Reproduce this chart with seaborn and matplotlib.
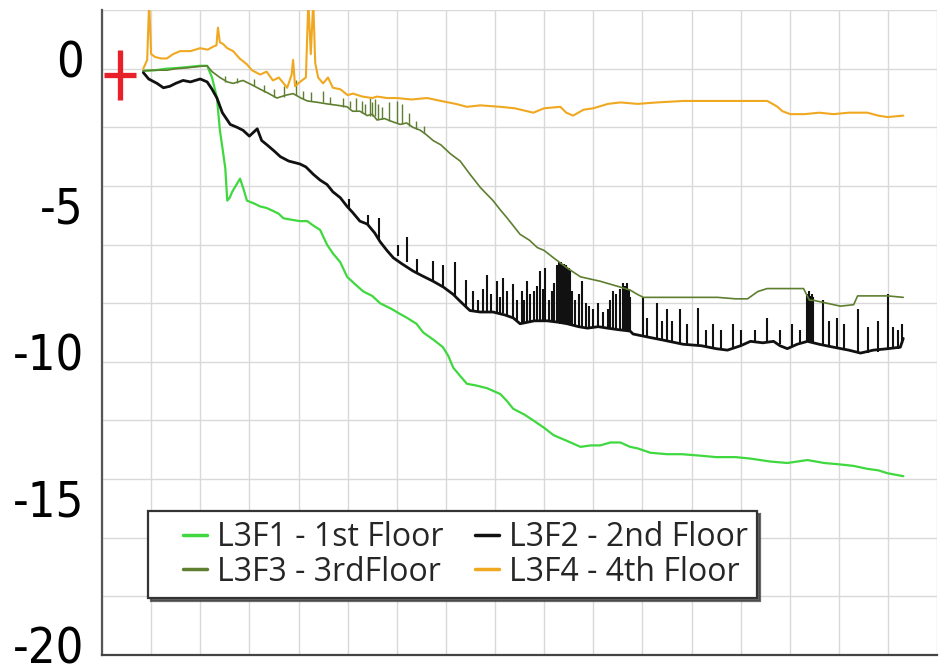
import numpy as np
import pandas as pd
import matplotlib
matplotlib.use("Agg")
import matplotlib.pyplot as plt
import matplotlib.transforms as mtransforms
import seaborn as sns
from matplotlib.lines import Line2D
from matplotlib.path import Path
from matplotlib.legend_handler import HandlerLine2D
from matplotlib.ticker import MultipleLocator, NullFormatter

# ---- settlement records (time in grid units, displacement) ----
series_names = ["L3F1 - 1st Floor", "L3F2 - 2nd Floor", "L3F3 - 3rdFloor", "L3F4 - 4th Floor"]
series_colors = ["#3fd83f", "#111111", "#5f7f30", "#f0a820"]

f1_t = [0.84, 1.1, 1.3, 1.5, 1.7, 2.0, 2.14, 2.24, 2.34, 2.40, 2.46, 2.51, 2.55, 2.60, 2.65,
        2.81, 2.88, 2.95, 3.1, 3.22, 3.35, 3.48, 3.6, 3.69, 3.85, 4.03, 4.18, 4.3, 4.44, 4.58,
        4.70, 4.85, 4.99, 5.15, 5.32, 5.5, 5.66, 5.9, 6.05, 6.21, 6.4, 6.54, 6.75, 6.94, 7.05,
        7.15, 7.3, 7.43, 7.6, 7.84, 8.11, 8.25, 8.37, 8.6, 8.78, 9.0, 9.19, 9.47, 9.74, 9.95,
        10.14, 10.35, 10.55, 10.75, 10.90, 11.16, 11.5, 11.8, 12.18, 12.5, 12.9, 13.20, 13.6,
        13.95, 14.36, 14.7, 15.03, 15.3, 15.58, 15.8, 15.99, 16.15, 16.31]
f1_d = [-0.07, -0.05, 0.0, 0.02, 0.05, 0.1, 0.1, -0.3, -1.0, -2.1, -2.8, -3.4, -4.5, -4.4, -4.2,
        -3.75, -4.1, -4.5, -4.6, -4.7, -4.75, -4.85, -4.95, -5.1, -5.15, -5.2, -5.2, -5.35, -5.5,
        -6.0, -6.3, -6.6, -7.1, -7.35, -7.6, -7.75, -8.0, -8.2, -8.35, -8.5, -8.7, -9.0, -9.25,
        -9.5, -9.8, -10.2, -10.5, -10.75, -10.8, -10.9, -11.1, -11.35, -11.6, -11.8, -12.0,
        -12.25, -12.5, -12.7, -12.9, -12.85, -12.85, -12.75, -12.75, -12.9, -12.95, -13.1,
        -13.15, -13.15, -13.2, -13.25, -13.25, -13.3, -13.4, -13.45, -13.35, -13.45, -13.5,
        -13.55, -13.65, -13.7, -13.8, -13.85, -13.9]

f2_t = [0.84, 0.95, 1.12, 1.25, 1.38, 1.5, 1.65, 1.8, 2.0, 2.14, 2.24, 2.34, 2.45, 2.61, 2.75,
        2.87, 3.0, 3.16, 3.25, 3.36, 3.5, 3.63, 3.8, 4.03, 4.15, 4.30, 4.44, 4.58, 4.70, 4.85,
        4.99, 5.1, 5.25, 5.40, 5.55, 5.66, 5.8, 5.93, 6.1, 6.33, 6.5, 6.74, 6.95, 7.15, 7.3,
        7.49, 7.7, 7.96, 8.2, 8.37, 8.51, 8.8, 9.06, 9.3, 9.47, 9.7, 9.88, 10.1, 10.29, 10.5,
        10.75, 10.81, 11.1, 11.4, 11.83, 12.2, 12.5, 12.73, 13.0, 13.20, 13.45, 13.67, 13.8,
        13.95, 14.15, 14.36, 14.6, 14.89, 15.2, 15.44, 15.7, 16.0, 16.25, 16.31]
f2_d = [-0.13, -0.35, -0.5, -0.65, -0.6, -0.5, -0.4, -0.45, -0.35, -0.45, -0.7, -1.0, -1.5,
        -1.9, -2.0, -2.1, -2.3, -2.05, -2.45, -2.6, -2.8, -3.0, -3.15, -3.25, -3.35, -3.6, -3.8,
        -3.95, -4.2, -4.4, -4.7, -4.9, -5.2, -5.3, -5.6, -5.9, -6.2, -6.45, -6.65, -6.9, -7.05,
        -7.25, -7.45, -7.7, -7.95, -8.25, -8.3, -8.3, -8.4, -8.5, -8.7, -8.6, -8.6, -8.65, -8.7,
        -8.8, -8.85, -8.8, -8.85, -8.9, -8.95, -9.05, -9.15, -9.25, -9.4, -9.45, -9.55, -9.6,
        -9.45, -9.3, -9.35, -9.3, -9.45, -9.55, -9.4, -9.3, -9.4, -9.5, -9.6, -9.7, -9.6, -9.55,
        -9.5, -9.2]

# short upward bursts of the 2nd-floor reading
f2_spike_t = [5.02, 5.42, 5.64, 6.03, 6.21, 6.41, 6.74, 6.94, 7.19, 7.40, 7.55, 7.65, 7.75,
              7.84, 7.92, 8.04, 8.10, 8.17, 8.25, 8.37, 8.45, 8.55, 8.60, 8.66, 8.72, 8.80,
              8.85, 8.92, 8.97, 9.02, 9.10, 9.15, 9.20, 9.27, 9.30, 9.32, 9.35, 9.37, 9.40,
              9.42, 9.45, 9.47, 9.50, 9.52, 9.57, 9.62, 9.70, 9.78, 9.85, 9.92, 10.00, 10.10,
              10.20, 10.29, 10.35, 10.41, 10.47, 10.55, 10.61, 10.65, 10.69, 10.72, 10.75,
              11.02, 11.10, 11.30, 11.40, 11.51, 11.60, 11.77, 11.90, 12.14, 12.30, 12.44,
              12.60, 12.85, 13.00, 13.30, 13.54, 13.80, 14.05, 14.20, 14.36, 14.39, 14.42,
              14.45, 14.48, 14.68, 14.80, 14.97, 15.10, 15.38, 15.60, 15.80, 15.99, 16.10,
              16.20, 16.29]
f2_spike_lo = [-4.75, -5.35, -5.85, -6.4, -6.6, -6.95, -7.25, -7.45, -7.75, -8.1, -8.25, -8.3,
               -8.3, -8.3, -8.3, -8.3, -8.35, -8.35, -8.4, -8.5, -8.6, -8.7, -8.7, -8.65, -8.6,
               -8.6, -8.6, -8.6, -8.6, -8.6, -8.6, -8.65, -8.65, -8.65, -8.65, -8.7, -8.7,
               -8.7, -8.7, -8.7, -8.7, -8.7, -8.75, -8.75, -8.75, -8.8, -8.8, -8.8, -8.85,
               -8.85, -8.85, -8.8, -8.85, -8.85, -8.85, -8.9, -8.9, -8.9, -8.9, -8.9, -8.95,
               -8.95, -8.95, -9.1, -9.15, -9.2, -9.25, -9.25, -9.3, -9.35, -9.4, -9.45, -9.5,
               -9.55, -9.6, -9.5, -9.45, -9.35, -9.3, -9.4, -9.45, -9.35, -9.3, -9.3, -9.3,
               -9.35, -9.35, -9.4, -9.45, -9.5, -9.55, -9.65, -9.7, -9.65, -9.6, -9.55, -9.55,
               -9.4]
f2_spike_hi = [-4.45, -5.0, -5.1, -6.0, -5.75, -6.5, -6.55, -6.7, -6.6, -7.2, -7.6, -7.9,
               -7.5, -7.05, -7.7, -7.25, -7.8, -7.15, -7.6, -7.35, -7.9, -7.6, -7.9, -7.25,
               -7.7, -7.6, -7.4, -6.9, -7.5, -6.8, -7.9, -7.6, -7.3, -6.7, -6.6, -6.65, -6.6,
               -6.7, -6.65, -6.7, -6.7, -6.75, -6.8, -6.9, -7.6, -7.9, -7.7, -7.25, -8.0, -8.1,
               -8.2, -8.0, -8.3, -8.2, -7.9, -7.6, -7.7, -7.5, -7.3, -7.4, -7.3, -7.5, -7.8,
               -7.8, -8.5, -8.0, -8.6, -8.2, -8.6, -8.2, -8.7, -8.15, -8.9, -8.7, -8.9, -8.7,
               -8.9, -8.9, -8.5, -8.9, -8.7, -8.9, -7.7, -7.6, -7.75, -7.7, -7.8, -7.9, -8.6,
               -8.5, -8.7, -8.2, -8.8, -8.6, -7.7, -8.8, -8.9, -8.7]

f3_t = [0.84, 1.1, 1.32, 1.5, 1.73, 2.0, 2.14, 2.24, 2.40, 2.55, 2.67, 2.87, 3.05, 3.22, 3.4,
        3.56, 3.75, 3.89, 4.05, 4.18, 4.4, 4.58, 4.8, 4.99, 5.1, 5.25, 5.40, 5.5, 5.60, 5.75,
        5.9, 6.07, 6.2, 6.33, 6.48, 6.6, 6.74, 6.9, 7.09, 7.29, 7.49, 7.70, 7.96, 8.1, 8.25,
        8.51, 8.7, 8.86, 9.0, 9.19, 9.47, 9.74, 10.14, 10.55, 10.75, 10.90, 11.02, 11.4, 11.77,
        12.1, 12.53, 12.9, 13.14, 13.35, 13.54, 13.9, 14.28, 14.4, 14.48, 15.03, 15.3, 15.38,
        15.7, 15.99, 16.31]
f3_d = [-0.07, -0.05, -0.05, 0.0, 0.03, 0.08, 0.1, -0.1, -0.3, -0.45, -0.5, -0.4, -0.55, -0.7,
        -0.85, -1.0, -0.9, -0.85, -1.0, -1.1, -1.15, -1.2, -1.25, -1.3, -1.45, -1.45, -1.6,
        -1.55, -1.75, -1.7, -1.8, -1.9, -1.85, -2.0, -2.1, -2.25, -2.45, -2.6, -2.9, -3.15,
        -3.6, -4.05, -4.5, -4.8, -5.1, -5.65, -5.85, -6.1, -6.2, -6.45, -6.8, -7.1, -7.25,
        -7.45, -7.55, -7.7, -7.8, -7.8, -7.8, -7.8, -7.8, -7.85, -7.85, -7.6, -7.5, -7.5, -7.5,
        -7.9, -7.9, -8.1, -8.05, -7.75, -7.75, -7.75, -7.8]

# small upward bursts of the 3rd-floor reading
f3_spike_t = [2.50, 2.75, 3.10, 3.30, 3.50, 3.70, 3.95, 4.10, 4.25, 4.50, 4.65, 4.90, 5.05,
              5.18, 5.30, 5.36, 5.45, 5.50, 5.55, 5.62, 5.70, 5.85, 6.00, 6.10, 6.25, 6.40,
              6.55]
f3_spike_lo = [-0.45, -0.5, -0.6, -0.8, -0.95, -0.95, -0.9, -1.05, -1.1, -1.15, -1.2, -1.3,
               -1.35, -1.45, -1.5, -1.55, -1.6, -1.6, -1.6, -1.7, -1.72, -1.8, -1.85, -1.9,
               -1.95, -2.05, -2.2]
f3_spike_hi = [-0.25, -0.3, -0.35, -0.55, -0.7, -0.6, -0.4, -0.75, -0.8, -0.75, -0.95, -1.0,
               -1.1, -1.0, -1.1, -1.2, -1.0, -1.15, -1.05, -1.2, -1.3, -1.15, -1.1, -1.2,
               -1.5, -1.8, -1.95]

f4_t = [0.84, 0.92, 0.96, 1.0, 1.08, 1.2, 1.32, 1.45, 1.59, 1.8, 2.0, 2.15, 2.26, 2.33, 2.36,
        2.40, 2.46, 2.55, 2.67, 2.80, 2.95, 3.05, 3.22, 3.35, 3.48, 3.6, 3.77, 3.86, 3.89, 3.93,
        4.03, 4.15, 4.20, 4.25, 4.30, 4.34, 4.40, 4.5, 4.6, 4.70, 4.85, 5.0, 5.11, 5.3, 5.5,
        5.6, 5.8, 6.0, 6.3, 6.62, 6.9, 7.2, 7.43, 7.7, 8.11, 8.4, 8.78, 9.0, 9.33, 9.45, 9.59,
        9.8, 10.0, 10.3, 10.55, 10.90, 11.3, 11.83, 12.3, 12.85, 13.2, 13.54, 13.65, 13.75,
        13.85, 14.01, 14.3, 14.6, 14.89, 15.2, 15.58, 15.8, 15.99, 16.31]
f4_d = [0.0, 0.3, 2.3, 0.5, 0.4, 0.35, 0.35, 0.5, 0.6, 0.6, 0.7, 0.65, 0.75, 0.8, 1.4, 0.9,
        0.85, 0.7, 0.6, 0.35, 0.15, -0.05, -0.2, -0.1, -0.4, -0.3, -0.65, -0.2, 0.3, -0.6,
        -0.45, -0.3, 2.3, 0.5, 2.3, 0.2, -0.3, -0.5, -0.3, -0.65, -0.7, -0.9, -0.85, -0.95,
        -1.0, -0.95, -1.0, -1.0, -1.05, -1.0, -1.1, -1.2, -1.3, -1.25, -1.3, -1.35, -1.5, -1.35,
        -1.3, -1.5, -1.6, -1.4, -1.35, -1.2, -1.15, -1.2, -1.15, -1.1, -1.1, -1.1, -1.1, -1.1,
        -1.2, -1.3, -1.45, -1.55, -1.55, -1.5, -1.55, -1.5, -1.5, -1.6, -1.65, -1.6]

# reference (start) point
origin_t = [0.37]
origin_d = [-0.2]

y_tick_values = [0, -5, -10, -15, -20]
y_tick_labels = ["0", "-5", "-10", "-15", "-20"]

frames = []
for name, t, d in zip(series_names, [f1_t, f2_t, f3_t, f4_t], [f1_d, f2_d, f3_d, f4_d]):
    frames.append(pd.DataFrame({"t": t, "d": d, "sensor": name}))
df = pd.concat(frames, ignore_index=True)
palette = dict(zip(series_names, series_colors))
widths = dict(zip(series_names, [1.6, 2.0, 1.2, 1.5]))

sns.set_style("white")
plt.rcParams["font.family"] = ["Open Sans", "DejaVu Sans"]

fig = plt.figure(figsize=(9.4, 6.72), dpi=100)
ax = fig.add_axes([0.1085, 0.0253, 0.8885, 0.9597])

ax.set_xlim(0, 17)
ax.set_ylim(-20, 2)

# background grid: every unit in x, every two units in y
ax.xaxis.set_major_locator(MultipleLocator(1))
ax.xaxis.set_minor_locator(MultipleLocator(1 / 7))
ax.grid(axis="x", which="major", color="#d9d9d9", lw=1.0)
for gy in np.arange(-20, 2.01, 2):
    ax.axhline(gy, color="#d9d9d9", lw=1.0, zorder=0)
ax.set_axisbelow(True)

for name in series_names:
    sub = df[df["sensor"] == name]
    sns.lineplot(data=sub, x="t", y="d", color=palette[name], lw=widths[name],
                 sort=False, estimator=None, ax=ax, legend=False)
    if name == series_names[1]:
        ax.vlines(f2_spike_t, f2_spike_lo, f2_spike_hi, color=palette[name], lw=1.5)
    if name == series_names[2]:
        ax.vlines(f3_spike_t, f3_spike_lo, f3_spike_hi, color=palette[name], lw=1.0)

plus = Path([(-0.64, 0), (0.64, 0), (0, -1), (0, 1)],
            [Path.MOVETO, Path.LINETO, Path.MOVETO, Path.LINETO])
ax.plot(origin_t, origin_d, linestyle="none", marker=plus, markersize=36,
        markeredgewidth=3.8, color="#e8202a", zorder=6, clip_on=False)

ax.set_xlabel("")
ax.set_ylabel("")
ax.set_yticks(y_tick_values)
ax.yaxis.set_major_formatter(NullFormatter())
ax.yaxis.set_minor_locator(MultipleLocator(1))
ax.tick_params(axis="y", which="both", direction="in", length=3.5, width=1.0,
               color="#555555")
ax.tick_params(axis="x", which="major", direction="in", length=6, width=1.1,
               color="#444444", labelbottom=False)
ax.tick_params(axis="x", which="minor", direction="in", length=3.5, width=0.9,
               color="#444444")

# value labels on the left, set slightly above their tick marks
label_trans = (mtransforms.blended_transform_factory(ax.transAxes, ax.transData)
               + mtransforms.ScaledTranslation(-13 / 72, 4 / 72, fig.dpi_scale_trans))
for v, s in zip(y_tick_values, y_tick_labels):
    ax.text(0, v, s, transform=label_trans, ha="right", va="center", fontsize=35,
            fontfamily="DejaVu Sans", fontstretch="condensed", color="black",
            clip_on=False)

for side in ["top", "right"]:
    ax.spines[side].set_visible(False)
ax.spines["left"].set_color("#555555")
ax.spines["left"].set_linewidth(1.6)
ax.spines["bottom"].set_color("#444444")
ax.spines["bottom"].set_linewidth(1.6)

handles = [Line2D([], [], color=c, lw=2.5) for c in series_colors]
order = [0, 2, 1, 3]
leg = ax.legend([handles[i] for i in order], [series_names[i] for i in order],
                ncol=2, loc="lower left", bbox_to_anchor=(0.055, 0.088),
                fontsize=23, frameon=True, fancybox=False, edgecolor="#333333",
                framealpha=1, handlelength=1.55, handletextpad=0.3, columnspacing=0.2,
                labelspacing=0.05, borderpad=0.3, borderaxespad=0,
                handler_map={Line2D: HandlerLine2D(xpad=0.8)},
                shadow={"ox": 2, "oy": -2, "color": "#444444", "alpha": 0.8})
leg.get_frame().set_linewidth(1.6)

fig.savefig("out.png", dpi=100)
